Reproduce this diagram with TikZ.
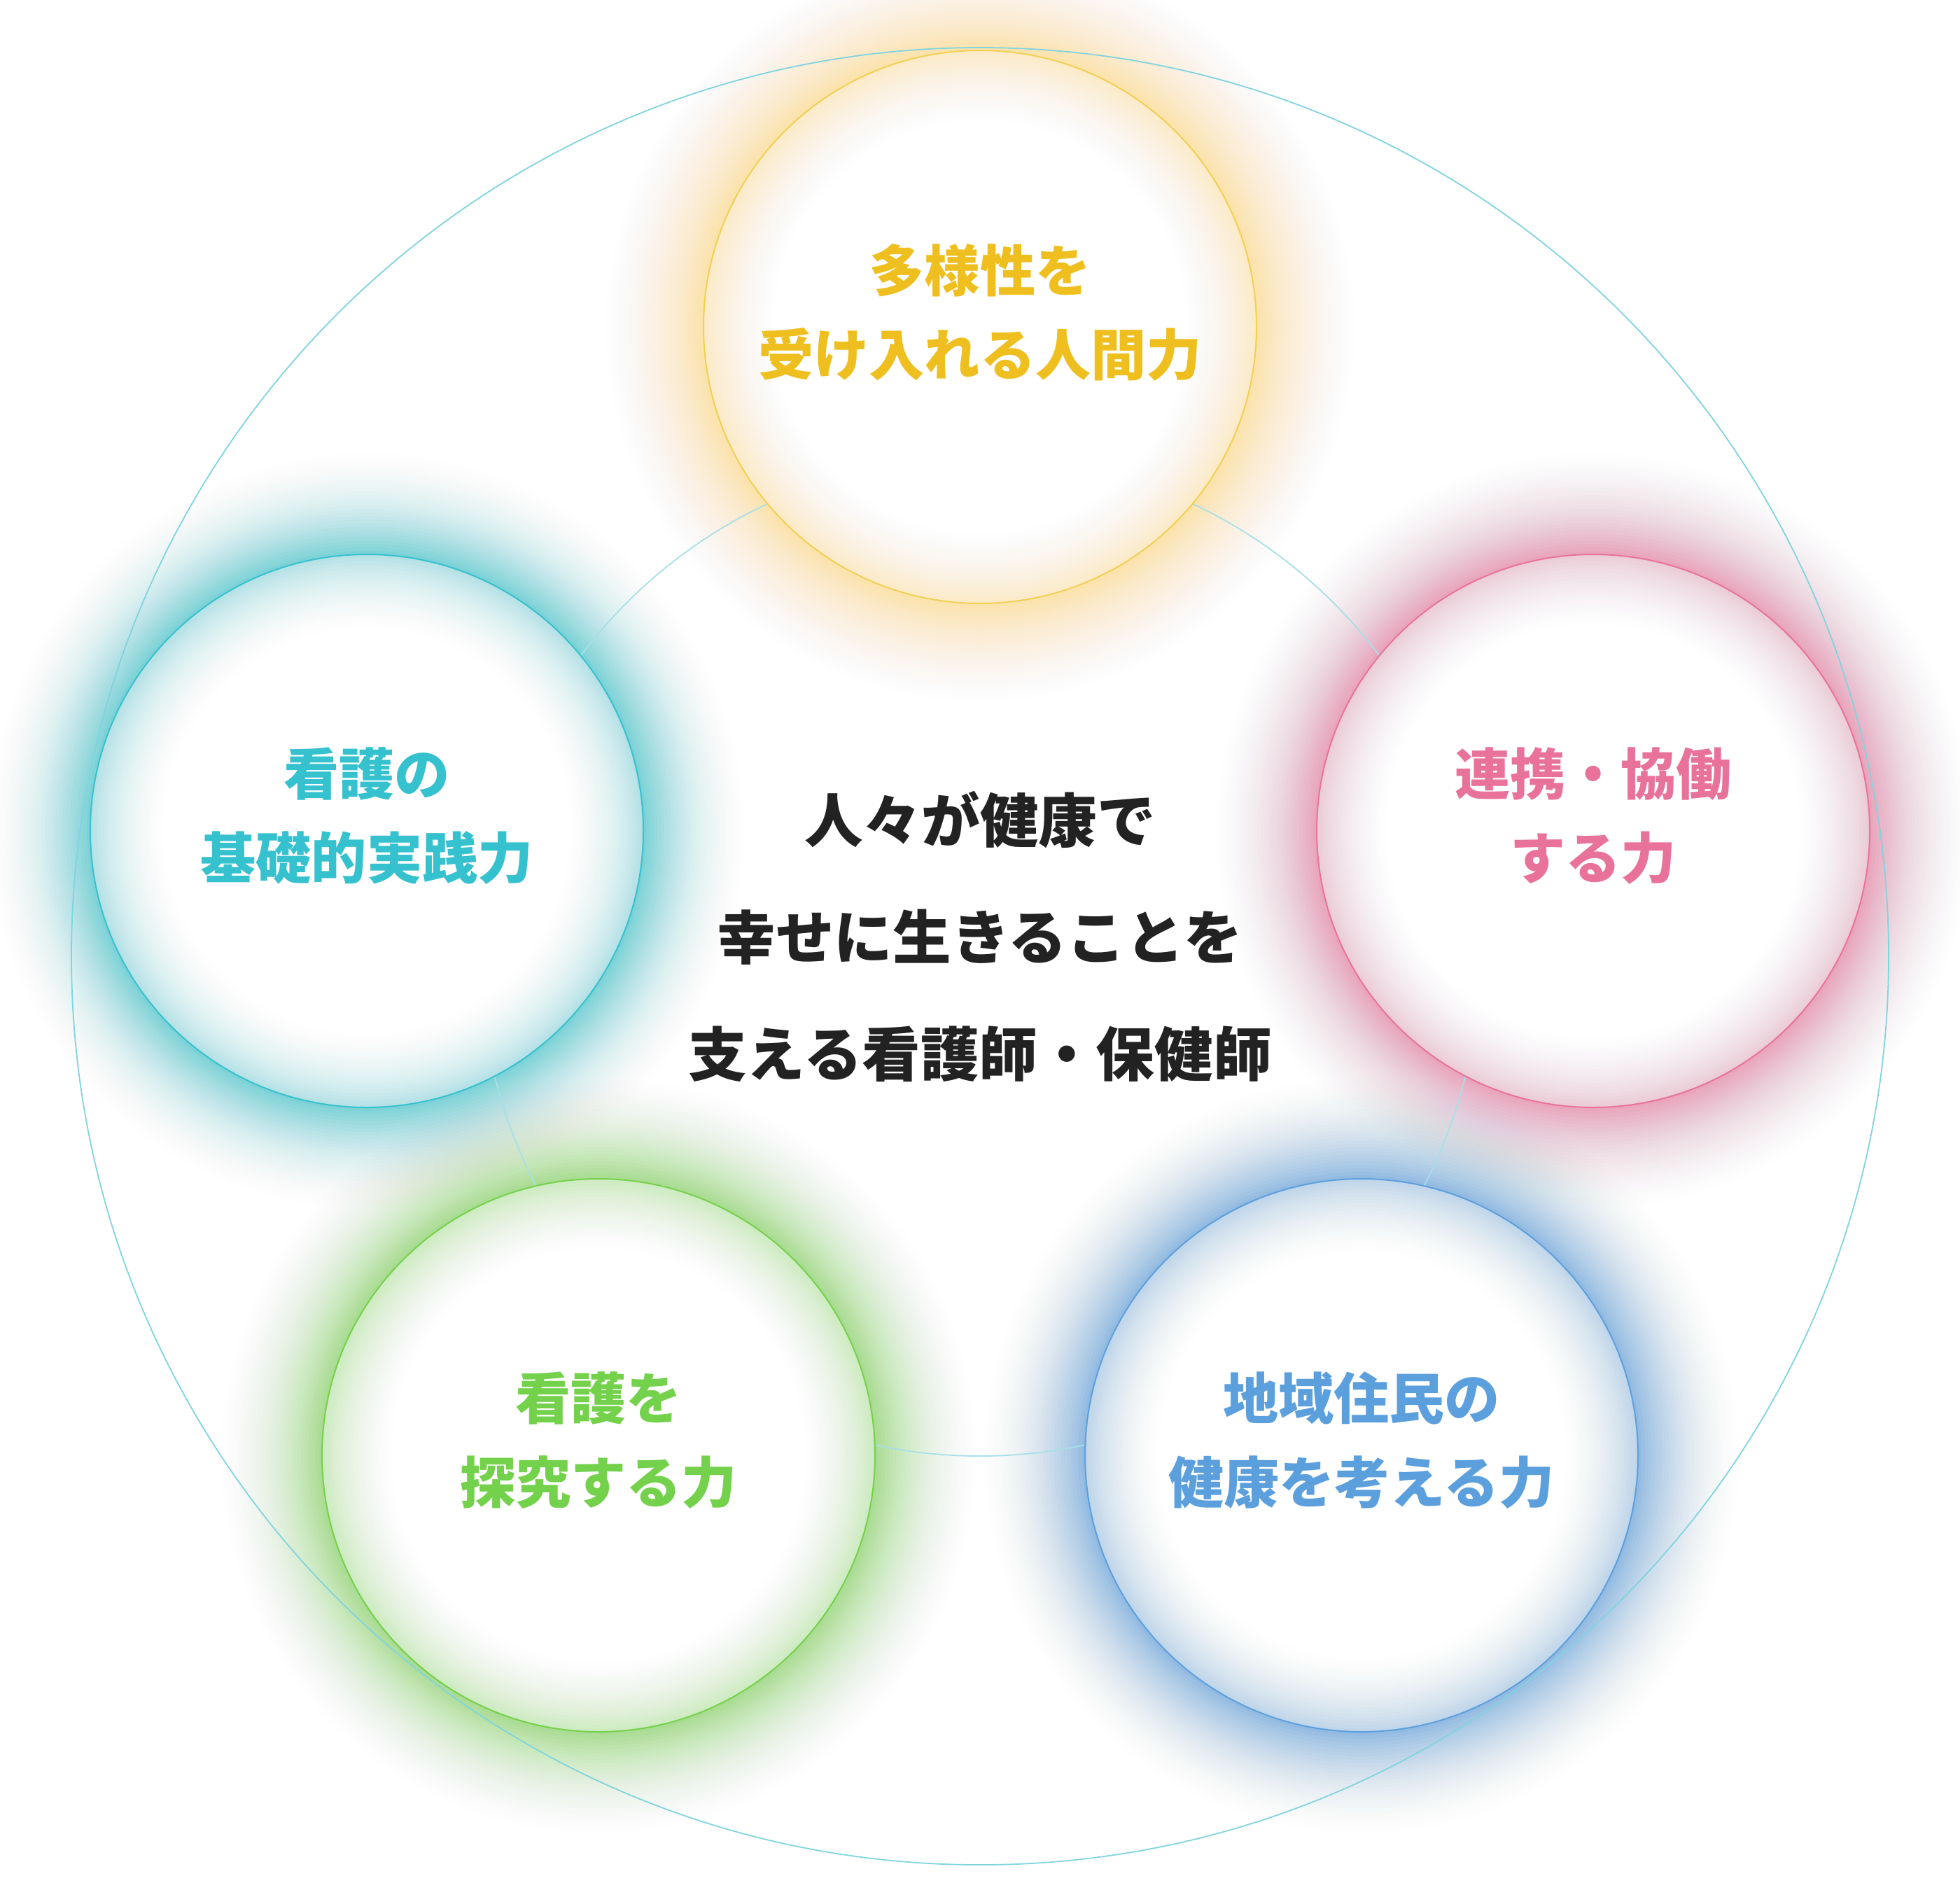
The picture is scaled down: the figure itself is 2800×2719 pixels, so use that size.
\documentclass[tikz,border=0pt]{standalone}
\usepackage{fontspec}
\newfontfamily\jp{Noto Sans CJK JP}
\definecolor{yel}{HTML}{EEBF1F}
\definecolor{yelrim}{HTML}{F2CF55}
\definecolor{yelglow}{HTML}{FBDA5C}
\definecolor{cya}{HTML}{36C1CF}
\definecolor{pnk}{HTML}{E9729B}
\definecolor{blu}{HTML}{5C9FDD}
\definecolor{grn}{HTML}{74D14B}
\definecolor{txt}{HTML}{222222}
\definecolor{ringc}{HTML}{80D4DE}
\definecolor{ringi}{HTML}{A6E0E7}
\tikzset{
  labeltext/.style={font=\jp\bfseries\fontsize{19.8}{30}\selectfont, align=center},
  maintext/.style={font=\jp\bfseries\fontsize{20.9}{41.75}\selectfont, align=center, text=txt},
  outerguide/.style={draw=ringc, line width=0.45pt},
  innerguide/.style={draw=ringi, line width=0.45pt},
  rim/.style={line width=0.5pt},
}
% #1 centre, #2 colour, #3 strength
\newcommand\myouterglow[3]{%
  \foreach \k in {32,31,...,1}{%
    \pgfmathsetmacro\aop{1-(1-#3*(1-(\k-1)/32)^2.3)/(1-#3*(1-\k/32)^2.3)}%
    \fill[#2, fill opacity=\aop] (#1) circle[radius={395+5*\k}];
  }}
\newcommand\myinnerglow[3]{%
  \foreach \k in {22,21,...,1}{%
    \pgfmathsetmacro\aop{1-(1-#3*(1-(\k-1)/22)^2)/(1-#3*(1-\k/22)^2)}%
    \fill[#2, fill opacity=\aop, even odd rule] (#1) circle[radius=395] (#1) circle[radius={395-5*\k}];
  }}
\begin{document}
\begin{tikzpicture}[x=0.25pt,y=0.25pt]
\useasboundingbox (0,0) rectangle (2800,-2719);
\fill[white] (0,0) rectangle (2800,-2719);
\coordinate (O) at (1400,-1366);
\coordinate (cA) at (1400,-467);
\coordinate (cB) at (524,-1187);
\coordinate (cC) at (2276,-1187);
\coordinate (cD) at (855,-2079);
\coordinate (cE) at (1945,-2079);
% outer glows
\myouterglow{cA}{yelglow}{0.45}
\myouterglow{cB}{cya}{0.62}
\myouterglow{cC}{pnk}{0.58}
\myouterglow{cD}{grn}{0.55}
\myouterglow{cE}{blu}{0.62}
% guide circles
\draw[outerguide] (O) circle[radius=1298];
\draw[innerguide] (O) circle[radius=714];
% circles
\foreach \c/\g/\r/\s in {cA/yelglow/yelrim/0.28, cB/cya/cya/0.33, cC/pnk/pnk/0.3, cD/grn/grn/0.3, cE/blu/blu/0.33}{
  \fill[white] (\c) circle[radius=395];
  \myinnerglow{\c}{\g}{\s}
  \draw[rim, draw=\r] (\c) circle[radius=395];
}
% labels
\node[labeltext, text=yel] (tA) at (1400,-446) {多様性を\\受け入れる人間力};
\node[labeltext, text=cya] (tB) at (524,-1166) {看護の\\基礎的実践力};
\node[labeltext, text=pnk] (tC) at (2276,-1166) {連携・協働\\する力};
\node[labeltext, text=grn] (tD) at (855,-2058) {看護を\\探究する力};
\node[labeltext, text=blu] (tE) at (1945,-2058) {地域住民の\\健康を考える力};
\node[maintext] (main) at (1400,-1338) {人々が健康で\\幸せに生きることを\\支える看護師・保健師};
\end{tikzpicture}
\end{document}
